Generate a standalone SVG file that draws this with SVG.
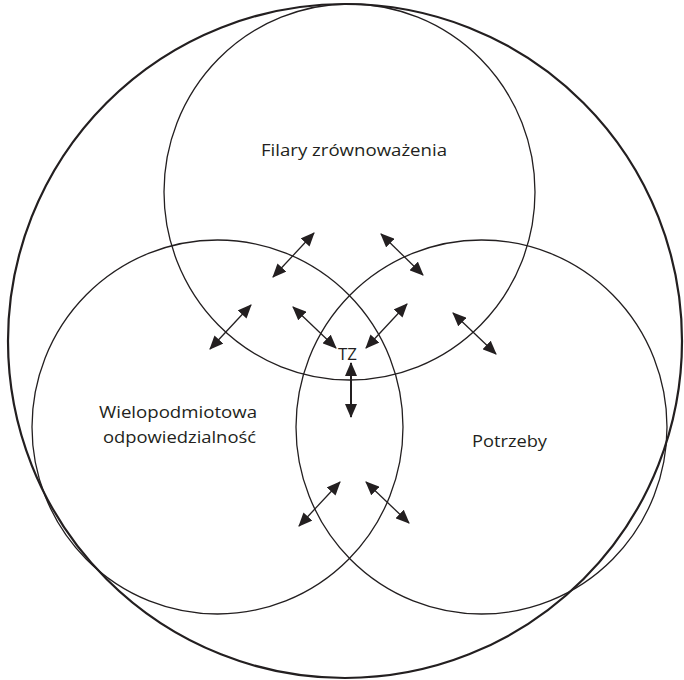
<svg xmlns="http://www.w3.org/2000/svg" width="684" height="680" viewBox="0 0 684 680">
<style>
.c{fill:none;stroke:#231f20;stroke-width:1.3}
.o{fill:none;stroke:#231f20;stroke-width:2.2}
.a{stroke:#231f20;stroke-width:1.3;fill:none;marker-start:url(#h);marker-end:url(#h)}
.t{font-family:"Open Sans","Liberation Sans",sans-serif;font-size:16px;fill:#231f20;text-anchor:middle}
</style>
<defs>
<marker id="h" viewBox="0 0 14 12" refX="13" refY="6" markerWidth="14" markerHeight="12" markerUnits="userSpaceOnUse" orient="auto-start-reverse">
<path d="M0,0 L14,6 L0,12 z" fill="#231f20"/>
</marker>
</defs>
<g id="outer"><circle class="o" cx="345" cy="341" r="337"/></g>
<g id="filary">
<ellipse class="c" cx="349.5" cy="192" rx="185.5" ry="188"/>
<text class="t" x="354" y="156" textLength="186" lengthAdjust="spacingAndGlyphs">Filary zrównoważenia</text>
</g>
<g id="wielopodmiotowa">
<ellipse class="c" cx="217.5" cy="427" rx="185.5" ry="187"/>
<text class="t" x="178" y="418" textLength="158" lengthAdjust="spacingAndGlyphs">Wielopodmiotowa</text>
<text class="t" x="179.5" y="443" textLength="153" lengthAdjust="spacingAndGlyphs">odpowiedzialność</text>
</g>
<g id="potrzeby">
<ellipse class="c" cx="481.5" cy="427" rx="185.5" ry="187"/>
<text class="t" x="509.5" y="447" textLength="75" lengthAdjust="spacingAndGlyphs">Potrzeby</text>
</g>
<g id="tz"><text class="t" x="347.5" y="360" textLength="19" lengthAdjust="spacingAndGlyphs">TZ</text></g>
<g id="connectors">
<line class="a" x1="273" y1="277" x2="314" y2="233"/>
<line class="a" x1="381" y1="234" x2="423" y2="275"/>
<line class="a" x1="210" y1="349" x2="251" y2="305"/>
<line class="a" x1="293" y1="307" x2="336" y2="348"/>
<line class="a" x1="366" y1="348" x2="407" y2="304"/>
<line class="a" x1="453" y1="313" x2="496" y2="354"/>
<line class="a" x1="299" y1="526" x2="340" y2="482"/>
<line class="a" x1="366" y1="482" x2="409" y2="523"/>
<line class="a" style="stroke-width:2" x1="351" y1="363" x2="351" y2="417"/>
</g>
</svg>
